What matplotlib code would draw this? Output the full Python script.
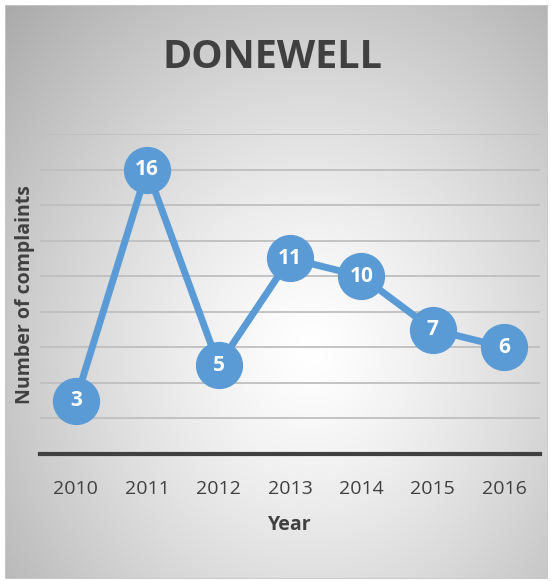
import numpy as np
import matplotlib
matplotlib.use("Agg")
import matplotlib.pyplot as plt
from matplotlib.patches import Rectangle

years = ["2010", "2011", "2012", "2013", "2014", "2015", "2016"]
complaints = [3, 16, 5, 11, 10, 7, 6]
title = "DONEWELL"
xlabel = "Year"
ylabel = "Number of complaints"

W, H = 551, 581
fig = plt.figure(figsize=(W / 100, H / 100), dpi=100)
fig.patch.set_facecolor("white")

# background gradient
bg = fig.add_axes([0, 0, 1, 1], zorder=0)
bg.set_axis_off()
yy, xx = np.mgrid[0:H, 0:W]
cx, cy = 310, 350
r = np.sqrt(((xx - cx) / 330.0) ** 2 + ((yy - cy) / 380.0) ** 2)
val = 1.0 - 0.24 * np.clip(r, 0, 1.3) ** 1.3
img = np.dstack([val, val, val])
bg.imshow(img, extent=[0, W, H, 0], aspect="auto", interpolation="bilinear")
bg.set_xlim(0, W)
bg.set_ylim(H, 0)
# outer white margins and frame
bg.add_patch(Rectangle((5, 5), 543, 574, fill=False, edgecolor="#c8c8c8", linewidth=1.2))
for rect in [(0, 0, W, 5), (0, 0, 5, H), (548, 0, 3, H), (0, 579, W, 2)]:
    bg.add_patch(Rectangle(rect[:2], rect[2], rect[3], facecolor="white", edgecolor="none"))

ax = fig.add_axes([40 / W, (H - 454) / H, 500 / W, 320 / H], zorder=1)
ax.patch.set_alpha(0)
x = np.arange(len(years))
ax.plot(x, complaints, color="#5b9bd5", linewidth=5, marker="o", markersize=33,
        markerfacecolor="#5b9bd5", markeredgecolor="#5b9bd5", clip_on=False, zorder=3)
for xi, v in zip(x, complaints):
    ax.text(xi, v, str(v), color="white", fontsize=15, fontweight="bold",
            ha="center", va="center", family="Open Sans", zorder=4)

ax.set_xlim(-0.5, len(years) - 0.5)
ax.set_ylim(0, 18)
ax.set_yticks(np.arange(2, 19, 2))
ax.yaxis.grid(True, color="#bfbfbf", linewidth=1.3)
ax.set_axisbelow(True)
ax.tick_params(axis="y", left=False, labelleft=False)
ax.set_xticks(x)
ax.set_xticklabels(years, family="Open Sans", fontsize=14, color="#404040")
ax.tick_params(axis="x", length=0, pad=19)
for s in ["top", "right", "left"]:
    ax.spines[s].set_visible(False)
ax.spines["bottom"].set_color("#404040")
ax.spines["bottom"].set_linewidth(3)

ax.set_xlabel(xlabel, family="Open Sans", fontsize=14, fontweight="bold", color="#404040", labelpad=12)
fig.text(25 / W, 1 - 295 / H, ylabel, rotation=90, ha="center", va="center",
         family="Open Sans", fontsize=14, fontweight="bold", color="#404040")
fig.text(272 / W, 1 - 58 / H, title, ha="center", va="center", family="Open Sans",
         fontsize=28.5, fontweight="bold", color="#404040")

fig.savefig("out.png", dpi=100)
